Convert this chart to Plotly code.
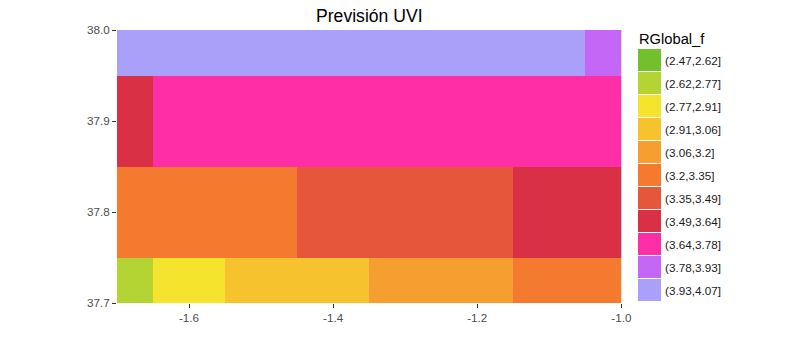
import plotly.graph_objects as go

# ---- data ----
categories = ["(2.47,2.62]", "(2.62,2.77]", "(2.77,2.91]", "(2.91,3.06]", "(3.06,3.2]",
              "(3.2,3.35]", "(3.35,3.49]", "(3.49,3.64]", "(3.64,3.78]", "(3.78,3.93]",
              "(3.93,4.07]"]
colors = ["#72c02c", "#b3d432", "#f4e42e", "#f6c22d", "#f59f31", "#f47a30",
          "#e6563b", "#da3045", "#fd2ea6", "#c567f6", "#aaa0fa"]
lon = [-1.7, -1.6, -1.5, -1.4, -1.3, -1.2, -1.1, -1.0]
lat = [37.7, 37.8, 37.9, 38.0]
row_37_7 = ["(2.62,2.77]", "(2.77,2.91]", "(2.91,3.06]", "(2.91,3.06]",
            "(3.06,3.2]", "(3.06,3.2]", "(3.2,3.35]", "(3.2,3.35]"]
row_37_8 = ["(3.2,3.35]", "(3.2,3.35]", "(3.2,3.35]", "(3.35,3.49]",
            "(3.35,3.49]", "(3.35,3.49]", "(3.49,3.64]", "(3.49,3.64]"]
row_37_9 = ["(3.49,3.64]", "(3.64,3.78]", "(3.64,3.78]", "(3.64,3.78]",
            "(3.64,3.78]", "(3.64,3.78]", "(3.64,3.78]", "(3.64,3.78]"]
row_38_0 = ["(3.93,4.07]", "(3.93,4.07]", "(3.93,4.07]", "(3.93,4.07]",
            "(3.93,4.07]", "(3.93,4.07]", "(3.93,4.07]", "(3.78,3.93]"]
x_ticks = [-1.6, -1.4, -1.2, -1.0]
y_ticks = [37.7, 37.8, 37.9, 38.0]

# ---- build ----
n = len(categories)
idx = {c: i for i, c in enumerate(categories)}
grid = [[idx[c] for c in row] for row in (row_37_7, row_37_8, row_37_9, row_38_0)]
cscale = []
for i, c in enumerate(colors):
    cscale.append([i / n, c])
    cscale.append([(i + 1) / n, c])

FONT = "Liberation Sans, Arial, sans-serif"
W, H = 806, 348
ML, MR, MT, MB = 117, 30, 30, 45
PW = W - ML - MR
PH = H - MT - MB

def px_x(p):
    return (p - ML) / PW

def px_y(p):
    return (H - MB - p) / PH

fig = go.Figure()
fig.add_trace(go.Heatmap(x=lon, y=lat, z=grid, colorscale=cscale, zmin=-0.5, zmax=n - 0.5,
                         showscale=False, hoverinfo="skip", xaxis="x", yaxis="y"))
fig.add_trace(go.Heatmap(x=[0], y=list(range(n)), z=[[i] for i in range(n)],
                         colorscale=cscale, zmin=-0.5, zmax=n - 0.5, ygap=1,
                         showscale=False, hoverinfo="skip", xaxis="x2", yaxis="y2"))

tickstyle = dict(ticks="outside", ticklen=4, tickwidth=1, tickcolor="#333333",
                 showgrid=False, zeroline=False, showline=False,
                 tickfont=dict(family=FONT, size=11.7, color="#4d4d4d"))

fig.update_layout(
    width=W, height=H,
    margin=dict(l=ML, r=MR, t=MT, b=MB),
    paper_bgcolor="white", plot_bgcolor="white",
    title=dict(text="Previsión UVI", x=px_x(369.3), xref="paper", xanchor="center",
               y=1 - 16 / H, yref="container", yanchor="middle",
               font=dict(family=FONT, size=17.6, color="black")),
    xaxis=dict(domain=[0, px_x(621.3)], range=[-1.7, -1.0], tickvals=x_ticks,
               ticktext=[f"{v:.1f}" for v in x_ticks], anchor="y", **tickstyle),
    yaxis=dict(domain=[0, 1], range=[37.7, 38.0], tickvals=y_ticks,
               ticktext=[f"{v:.1f}" for v in y_ticks], anchor="x", **tickstyle),
    xaxis2=dict(domain=[px_x(638), px_x(661)], range=[-0.5, 0.5], visible=False,
                anchor="y2", fixedrange=True),
    yaxis2=dict(domain=[px_y(302), px_y(49)], range=[n - 0.5, -0.5], anchor="x2",
                side="right", tickvals=list(range(n)), ticktext=categories,
                ticks="", showgrid=False, zeroline=False, showline=False,
                ticklabelstandoff=3,
                tickfont=dict(family=FONT, size=11.7, color="#1a1a1a")),
    annotations=[dict(text="RGlobal_f", xref="paper", yref="paper", x=px_x(637),
                      y=px_y(39), xanchor="left", yanchor="middle", showarrow=False,
                      font=dict(family=FONT, size=14.7, color="black"))],
)

fig.write_html("out.html")
